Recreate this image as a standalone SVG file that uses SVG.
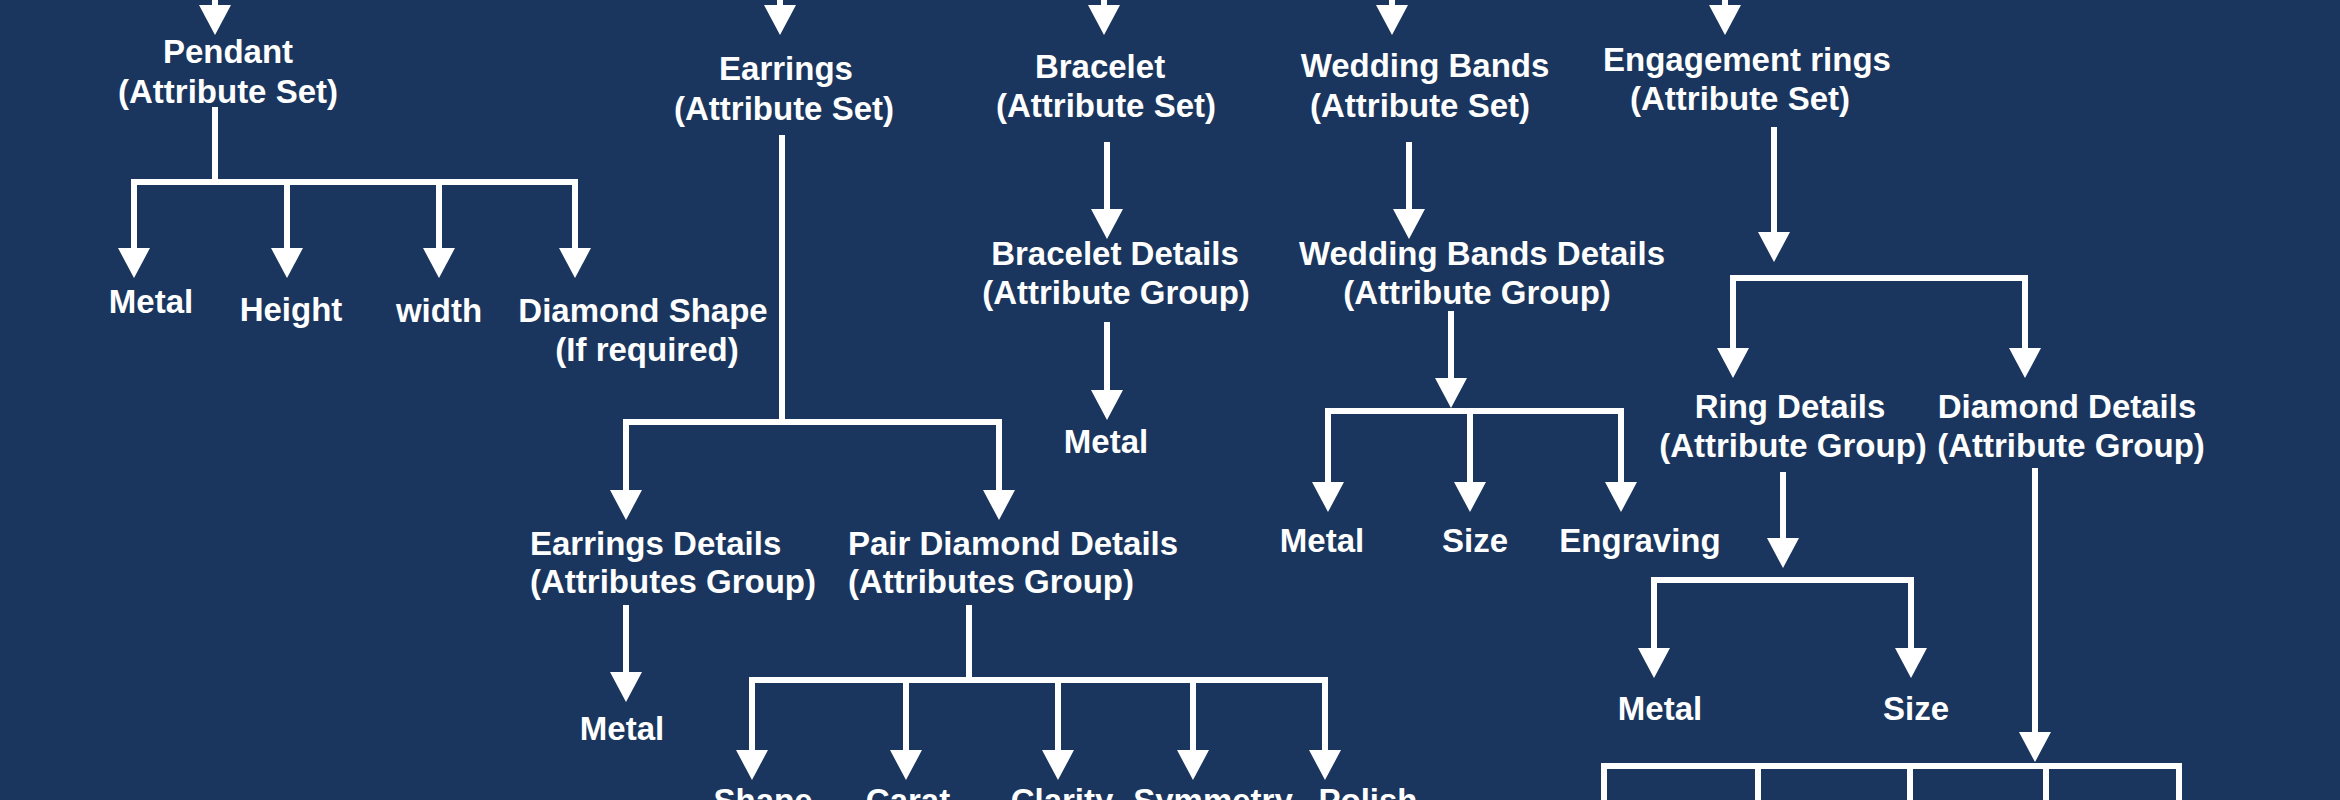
<svg xmlns="http://www.w3.org/2000/svg" width="2340" height="800" viewBox="0 0 2340 800">
<style>
  .bg { fill: #1a365e; }
  text { font-family: "Liberation Sans", Arial, Helvetica, sans-serif; font-weight: bold; font-size: 33px; fill: #ffffff; text-anchor: middle; }
  text.l { text-anchor: start; }
  .c { fill: none; stroke: #ffffff; stroke-width: 6; stroke-linecap: butt; }
  .a { fill: none; stroke: #ffffff; stroke-width: 6; marker-end: url(#ah); }
</style>
<defs>
  <marker id="ah" markerUnits="userSpaceOnUse" markerWidth="30" markerHeight="32" viewBox="0 0 30 32" refX="2" refY="16" orient="auto">
    <path d="M0,0 L30,16 L0,32 Z" fill="#ffffff"/>
  </marker>
</defs>
<rect class="bg" x="0" y="0" width="2340" height="800"/>

<g id="connectors">
  <!-- top incoming arrows -->
  <path class="a" d="M215,-10 V7"/>
  <path class="a" d="M780,-10 V7"/>
  <path class="a" d="M1104,-10 V7"/>
  <path class="a" d="M1392,-10 V7"/>
  <path class="a" d="M1725,-10 V7"/>

  <!-- Pendant -->
  <path class="c" d="M215,107 V182"/>
  <path class="c" d="M131,182 H578"/>
  <path class="a" d="M134,179 V250"/>
  <path class="a" d="M287,179 V250"/>
  <path class="a" d="M439,179 V250"/>
  <path class="a" d="M575,179 V250"/>

  <!-- Earrings -->
  <path class="c" d="M782,135 V422"/>
  <path class="c" d="M623,422 H1002"/>
  <path class="a" d="M626,419 V492"/>
  <path class="a" d="M999,419 V492"/>
  <path class="a" d="M626,605 V674"/>
  <path class="c" d="M969,605 V680"/>
  <path class="c" d="M749,680 H1328"/>
  <path class="a" d="M752,677 V752"/>
  <path class="a" d="M906,677 V752"/>
  <path class="a" d="M1058,677 V752"/>
  <path class="a" d="M1193,677 V752"/>
  <path class="a" d="M1325,677 V752"/>

  <!-- Bracelet -->
  <path class="a" d="M1107,142 V211"/>
  <path class="a" d="M1107,322 V392"/>

  <!-- Wedding Bands -->
  <path class="a" d="M1409,142 V211"/>
  <path class="a" d="M1451,311 V380"/>
  <path class="c" d="M1325,411 H1624"/>
  <path class="a" d="M1328,408 V484"/>
  <path class="a" d="M1470,408 V484"/>
  <path class="a" d="M1621,408 V484"/>

  <!-- Engagement rings -->
  <path class="a" d="M1774,127 V234"/>
  <path class="c" d="M1730,278 H2028"/>
  <path class="a" d="M1733,275 V350"/>
  <path class="a" d="M2025,275 V350"/>
  <path class="a" d="M1783,472 V540"/>
  <path class="c" d="M1651,580 H1914"/>
  <path class="a" d="M1654,577 V650"/>
  <path class="a" d="M1911,577 V650"/>
  <path class="a" d="M2035,468 V734"/>
</g>

<g id="pendant"><text x="228" y="63">Pendant</text><text x="228" y="103">(Attribute Set)</text></g>
<g id="pendant-metal"><text x="151" y="313">Metal</text></g>
<g id="pendant-height"><text x="291" y="321">Height</text></g>
<g id="pendant-width"><text x="439" y="322">width</text></g>
<g id="pendant-diamond-shape"><text x="643" y="322">Diamond Shape</text><text x="647" y="361">(If required)</text></g>

<g id="earrings"><text x="786" y="80">Earrings</text><text x="784" y="120">(Attribute Set)</text></g>
<g id="earrings-details"><text class="l" x="530" y="555">Earrings Details</text><text class="l" x="530" y="593">(Attributes Group)</text></g>
<g id="pair-diamond-details"><text class="l" x="848" y="555">Pair Diamond Details</text><text class="l" x="848" y="593">(Attributes Group)</text></g>
<g id="earrings-metal"><text x="622" y="740">Metal</text></g>
<g id="pair-shape"><text x="763" y="812">Shape</text></g>
<g id="pair-carat"><text x="908" y="812">Carat</text></g>
<g id="pair-clarity"><text x="1062" y="812">Clarity</text></g>
<g id="pair-symmetry"><text x="1213" y="812">Symmetry</text></g>
<g id="pair-polish"><text x="1368" y="812">Polish</text></g>

<g id="bracelet"><text x="1100" y="78">Bracelet</text><text x="1106" y="117">(Attribute Set)</text></g>
<g id="bracelet-details"><text x="1115" y="265">Bracelet Details</text><text x="1116" y="304">(Attribute Group)</text></g>
<g id="bracelet-metal"><text x="1106" y="453">Metal</text></g>

<g id="wedding-bands"><text x="1425" y="77">Wedding Bands</text><text x="1420" y="117">(Attribute Set)</text></g>
<g id="wedding-bands-details"><text x="1482" y="265">Wedding Bands Details</text><text x="1477" y="304">(Attribute Group)</text></g>
<g id="wb-metal"><text x="1322" y="552">Metal</text></g>
<g id="wb-size"><text x="1475" y="552">Size</text></g>
<g id="wb-engraving"><text x="1640" y="552">Engraving</text></g>

<g id="engagement-rings"><text x="1747" y="71">Engagement rings</text><text x="1740" y="110">(Attribute Set)</text></g>
<g id="ring-details"><text x="1790" y="418">Ring Details</text><text x="1793" y="457">(Attribute Group)</text></g>
<g id="diamond-details"><text x="2067" y="418">Diamond Details</text><text x="2071" y="457">(Attribute Group)</text></g>
<g id="ring-metal"><text x="1660" y="720">Metal</text></g>
<g id="ring-size"><text x="1916" y="720">Size</text></g>
<g id="diamond-table">
  <rect class="c" x="1604" y="766" width="575" height="100"/>
  <path class="c" d="M1758,766 V866 M1910,766 V866 M2046,766 V866"/>
</g>
</svg>
